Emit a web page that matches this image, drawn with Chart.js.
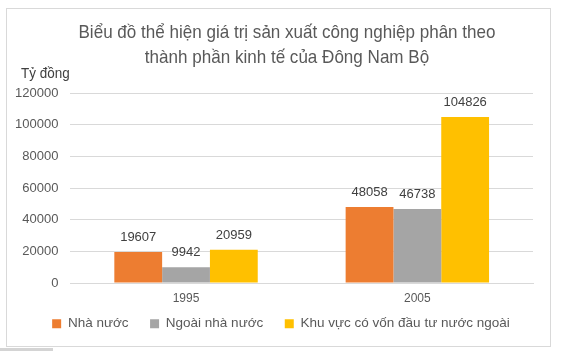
<!DOCTYPE html>
<html lang="vi">
<head>
<meta charset="UTF-8">
<title>Biểu đồ Đông Nam Bộ</title>
<script src="https://cdn.jsdelivr.net/npm/chart.js"></script>
<style>
  html, body { margin: 0; padding: 0; background: #fff; }
  #wrap { position: relative; width: 579px; height: 351px; }
  #frame { position: absolute; left: 6px; top: 8px; width: 543px; height: 337px; border: 1px solid #d9d9d9; pointer-events: none; }
  #scroll { position: absolute; left: 0; top: 348px; width: 53px; height: 3px; background: #d4d4d4; }
</style>
</head>
<body>
<div id="wrap">
  <canvas id="chart" width="579" height="351"></canvas>
  <div id="frame"></div>
  <div id="scroll"></div>
</div>
<script>
// données
const years = ['1995', '2005'];
const nhaNuoc = [19607, 48058];
const ngoaiNhaNuoc = [9942, 46738];
const fdi = [20959, 104826];
const yTicks = [0, 20000, 40000, 60000, 80000, 100000, 120000];
const titleLines = ['Biểu đồ thể hiện giá trị sản xuất công nghiệp phân theo', 'thành phần kinh tế của Đông Nam Bộ'];
const unitLabel = 'Tỷ đồng';

// titre, unité et étiquettes au-dessus des barres
const extraText = {
  id: 'extraText',
  afterDraw(chart) {
    const ctx = chart.ctx;
    ctx.save();
    ctx.fillStyle = '#595959';
    ctx.textAlign = 'center';
    ctx.textBaseline = 'middle';
    ctx.font = '19px "Liberation Sans", Arial, sans-serif';
    // le titre d'origine est en police étroite : on resserre un peu
    const f = 417 / ctx.measureText(titleLines[0]).width;
    [33, 58].forEach((y, i) => {
      ctx.save();
      ctx.translate(287, y);
      ctx.scale(f, 1);
      ctx.fillText(titleLines[i], 0, 0);
      ctx.restore();
    });
    ctx.textAlign = 'left';
    ctx.fillStyle = '#404040';
    ctx.font = '15px "Liberation Sans", Arial, sans-serif';
    ctx.save();
    ctx.translate(21, 74);
    ctx.scale(f, 1);
    ctx.fillText(unitLabel, 0, 0);
    ctx.restore();

    ctx.font = '13px "Liberation Sans", Arial, sans-serif';
    ctx.textAlign = 'center';
    ctx.textBaseline = 'bottom';
    chart.data.datasets.forEach((ds, i) => {
      chart.getDatasetMeta(i).data.forEach((bar, j) => {
        ctx.fillText(ds.data[j], bar.x, bar.y - 8);
      });
    });
    ctx.restore();
  }
};

new Chart(document.getElementById('chart'), {
  type: 'bar',
  data: {
    labels: years,
    datasets: [
      { label: 'Nhà nước', data: nhaNuoc, backgroundColor: '#ED7D31' },
      { label: 'Ngoài nhà nước', data: ngoaiNhaNuoc, backgroundColor: '#A5A5A5' },
      { label: 'Khu vực có vốn đầu tư nước ngoài', data: fdi, backgroundColor: '#FFC000' }
    ]
  },
  options: {
    responsive: false,
    animation: false,
    layout: { padding: { left: 3, right: 20, top: 93, bottom: 10.5 } },
    datasets: { bar: { barPercentage: 1, categoryPercentage: 0.62 } },
    plugins: {
      title: { display: false },
      legend: {
        position: 'bottom',
        labels: {
          boxWidth: 9, boxHeight: 9, padding: 11,
          color: '#595959',
          font: { family: '"Liberation Sans", Arial, sans-serif', size: 13.5 },
          // un peu plus d'air entre les éléments, comme dans l'original
          generateLabels: chart => Chart.defaults.plugins.legend.labels.generateLabels(chart)
            .map((item, i, all) => i < all.length - 1 ? { ...item, text: item.text + '\u2002 ' } : item)
        }
      },
      tooltip: { enabled: false }
    },
    scales: {
      x: {
        grid: { display: false, drawTicks: false },
        border: { color: '#d9d9d9' },
        ticks: { color: '#595959', font: { family: '"Liberation Sans", Arial, sans-serif', size: 12 }, padding: 8 },
        afterFit: axis => { axis.height = 23; }
      },
      y: {
        min: 0, max: 120000,
        afterBuildTicks: axis => { axis.ticks = yTicks.map(v => ({ value: v })); },
        grid: { color: '#d9d9d9', drawTicks: false },
        border: { display: false },
        ticks: { color: '#595959', font: { family: '"Liberation Sans", Arial, sans-serif', size: 13 }, padding: 12, callback: v => String(v) }
      },
      // marge droite vide, pour garder la légende centrée comme l'original
      yRight: {
        position: 'right',
        grid: { display: false },
        border: { display: false },
        ticks: { display: false },
        afterFit: axis => { axis.width = 26; }
      }
    }
  },
  plugins: [extraText]
});
</script>
</body>
</html>
